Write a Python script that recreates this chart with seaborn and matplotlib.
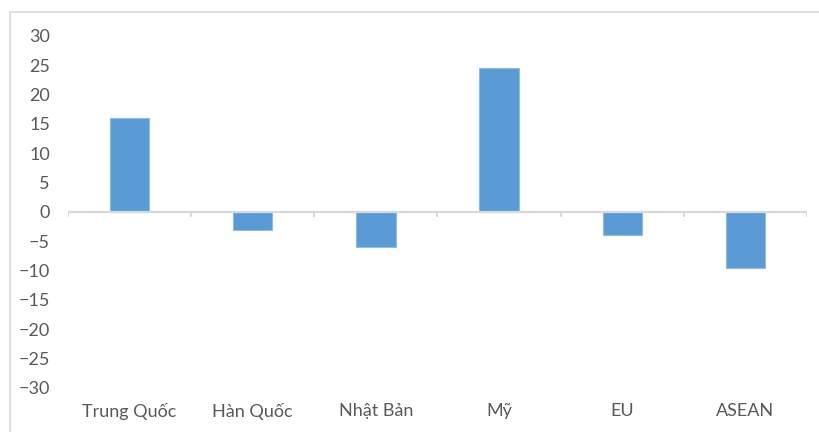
import numpy as np
import pandas as pd
import matplotlib
matplotlib.use("Agg")
import matplotlib.pyplot as plt
import seaborn as sns
from matplotlib.patches import Rectangle

# du lieu doc tu hinh
countries = ["Trung Quốc", "Hàn Quốc", "Nhật Bản", "Mỹ", "EU", "ASEAN"]
values = [16.0, -3.0, -6.0, 24.5, -4.0, -9.5]
yticks = list(range(-30, 31, 5))

sns.set_theme(style="white")
plt.rcParams['font.family'] = ['Lato', 'DejaVu Sans']

df = pd.DataFrame({"country": countries, "value": values})

fig = plt.figure(figsize=(8.19, 4.32), dpi=100)
ax = fig.add_axes([68/819, 1-388/432, (807-68)/819, (388-36)/432])

sns.barplot(data=df, x="country", y="value", color="#5b9bd5", saturation=1,
            width=0.32, edgecolor="#8fbbe3", linewidth=0.8, ax=ax)

ax.set_xlim(-0.5, len(countries) - 0.5)
ax.set_ylim(-30, 30)
ax.set_yticks(yticks)
ax.set_xlabel("")
ax.set_ylabel("")
for s in ax.spines.values():
    s.set_visible(False)

# truc 0 va vach chia
ax.axhline(0, color="#d9d9d9", lw=1.6, zorder=1)
ax.vlines(np.arange(-0.5, len(countries)), 0.5 - 0.015, 0.5, color="#d9d9d9",
          lw=1.4, transform=ax.get_xaxis_transform(), zorder=1)

ax.tick_params(axis="y", length=0, pad=13, labelsize=13, labelcolor="#595959")
ax.tick_params(axis="x", length=0, pad=11, labelsize=13, labelcolor="#595959")

# khung bieu do
fig.patches.append(Rectangle((9.5/819, -0.1), 1.2, 1.1 - 11.5/432 + 0.0, transform=fig.transFigure,
                             fill=False, edgecolor="#d9d9d9", lw=1.2))

fig.savefig("out.png", dpi=100)
